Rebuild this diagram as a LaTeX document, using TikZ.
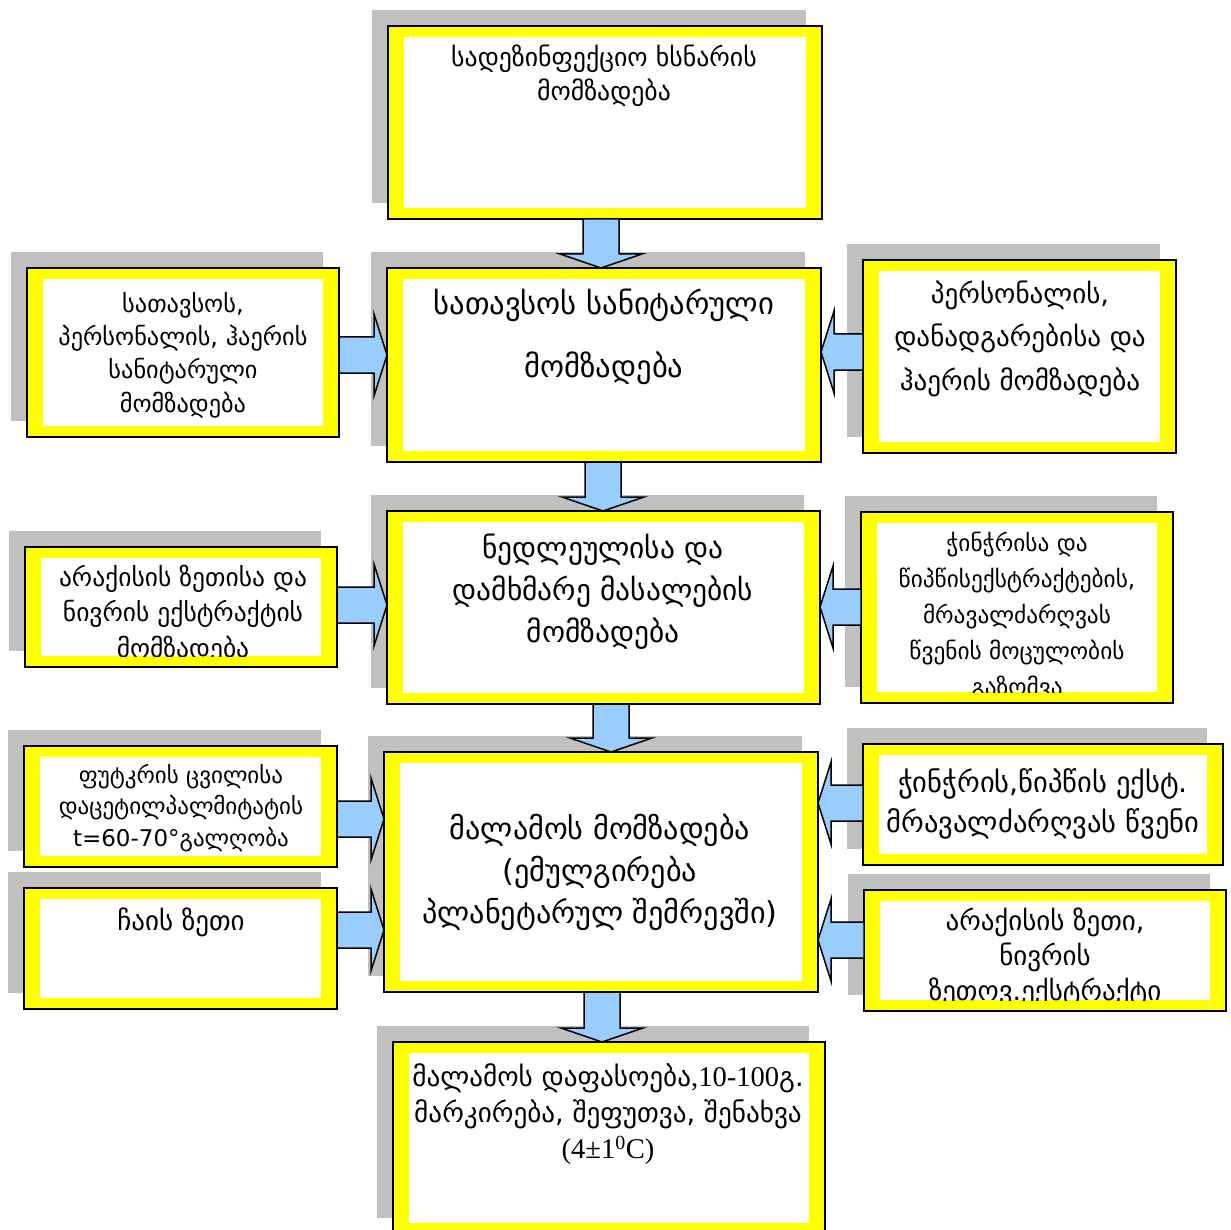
\documentclass[tikz,border=0pt]{standalone}
\usepackage{fontspec}
\setmainfont{DejaVu Sans}
\newfontfamily\lser[Scale=1.05]{Liberation Serif}
\usetikzlibrary{calc,fit,shadows}
\definecolor{shgray}{HTML}{C0C0C0}
\definecolor{byel}{HTML}{FFFF00}
\definecolor{ablue}{HTML}{99CCFF}
\tikzset{
  box/.style={draw=black, line width=1.5pt, fill=byel, inner sep=0pt, outer sep=0pt,
    general shadow={fill=shgray, shadow xshift=-16pt, shadow yshift=16pt}},
  txt/.style={align=center, inner sep=0pt, anchor=north},
  arr/.style={draw=black, line width=1.5pt, fill=ablue, line join=miter},
}
\newcommand\gbox[7]{%
  \node[box, fit={(#2) (#3)}] (#1) {};
  \fill[white] ($(#1.north west)+(16,11)$) rectangle ($(#1.south east)+(-16,-11)$);
  \begin{scope}
    \clip ($(#1.north west)+(16,11)$) rectangle ($(#1.south east)+(-16,-11)$);
    \node[txt, font=\fontsize{#5}{#6}\selectfont] (#1t) at (#4) {\rule{0pt}{0.8em}#7};
  \end{scope}}
\newcommand\rarr[3]{%
  \coordinate (ay) at (0,#3);
  \coordinate (a0) at (#1.east |- ay);
  \coordinate (a1) at (#2.west |- ay);
  \draw[arr] ($(a0)+(0,-18)$) -- ($(a1)+(-13,-18)$) -- ($(a1)+(-13,-41)$) -- (a1)
    -- ($(a1)+(-13,41)$) -- ($(a1)+(-13,18)$) -- ($(a0)+(0,18)$) -- cycle;}
\newcommand\larr[3]{%
  \coordinate (ay) at (0,#3);
  \coordinate (a0) at (#1.west |- ay);
  \coordinate (a1) at (#2.east |- ay);
  \draw[arr] ($(a0)+(0,-18)$) -- ($(a1)+(13,-18)$) -- ($(a1)+(13,-41)$) -- (a1)
    -- ($(a1)+(13,41)$) -- ($(a1)+(13,18)$) -- ($(a0)+(0,18)$) -- cycle;}
\newcommand\darr[3]{%
  \coordinate (ax) at (#3,0);
  \coordinate (a0) at (#1.south -| ax);
  \coordinate (a1) at (#2.north -| ax);
  \draw[arr] ($(a0)+(-18,0)$) -- ($(a1)+(-18,-14)$) -- ($(a1)+(-41,-14)$) -- (a1)
    -- ($(a1)+(41,-14)$) -- ($(a1)+(18,-14)$) -- ($(a0)+(18,0)$) -- cycle;}
\begin{document}
\begin{tikzpicture}[x=1pt,y=-1pt]
\useasboundingbox (0,0) rectangle (1231,1230);
\clip (0,0) rectangle (1231,1230);
% centre column
\gbox{b1}{388,26}{822,219}{604,44.5}{25.8}{34}{სადეზინფექციო ხსნარის\\მომზადება}
\gbox{b2}{387,268}{821,462}{604,289}{30.6}{63}{სათავსოს სანიტარული\\მომზადება}
\gbox{b3}{387,511}{820,704}{603,533.5}{29.4}{42}{ნედლეულისა და\\დამხმარე მასალების\\მომზადება}
\gbox{b4}{384,752}{818,992}{600,814}{30.2}{42}{მალამოს მომზადება\\(ემულგირება\\პლანეტარულ შემრევში)}
\gbox{b5}{393,1042}{825,1234}{608,1063.5}{27.2}{36}{მალამოს დაფასოება{\lser,10-100}გ.\\მარკირება, შეფუთვა, შენახვა\\{\lser(4±1\textsuperscript{0}C)}}
% left column
\gbox{l1}{27,268}{339,437}{183,292}{24.3}{33.3}{სათავსოს,\\პერსონალის, ჰაერის\\სანიტარული\\მომზადება}
\gbox{l2}{25,547}{337,667}{183,564.5}{25.5}{35.5}{არაქისის ზეთისა და\\ნივრის ექსტრაქტის\\მომზადება}
\gbox{l3}{24,746}{337,867}{181,764}{23}{31.5}{ფუტკრის ცვილისა\\დაცეტილპალმიტატის\\t=60-70°გალღობა}
\gbox{l4}{24,888}{337,1009}{181,908}{27}{30}{ჩაის ზეთი}
% right column
\gbox{r1}{863,260}{1176,453}{1020,280.5}{27.1}{43.5}{პერსონალის,\\დანადგარებისა და\\ჰაერის მომზადება}
\gbox{r2}{861,512}{1173,703}{1017,532}{23.3}{36}{ჭინჭრისა და\\წიპწისექსტრაქტების,\\მრავალძარღვას\\წვენის მოცულობის\\გაზომვა}
\gbox{r3}{863,744}{1223,865}{1043,768}{28.5}{40}{ჭინჭრის,წიპწის ექსტ.\\მრავალძარღვას წვენი}
\gbox{r4}{864,890}{1226,1011}{1045,908}{27}{35}{არაქისის ზეთი,\\ნივრის\\ზეთოვ.ექსტრაქტი}
% connectors
\darr{b1}{b2}{601}
\darr{b2}{b3}{603}
\darr{b3}{b4}{611}
\darr{b4}{b5}{602}
\rarr{l1}{b2}{355}
\rarr{l2}{b3}{605}
\rarr{l3}{b4}{819}
\rarr{l4}{b4}{930}
\larr{r1}{b2}{352}
\larr{r2}{b3}{607}
\larr{r3}{b4}{803}
\larr{r4}{b4}{940}
\end{tikzpicture}
\end{document}
